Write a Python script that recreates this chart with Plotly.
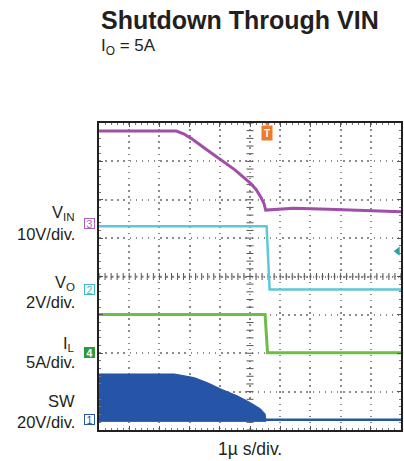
import numpy as np
import plotly.graph_objects as go

# ---------------- data (time in divisions of 1 us, physical units) ----------------
# channel settings: ground offset (divisions from bottom) and scale per division
ch_offset = {"VIN": 5.39, "VO": 3.66, "IL": 2.03, "SW": 0.27}
ch_scale = {"VIN": 10.0, "VO": 2.0, "IL": 5.0, "SW": 20.0}

vin_t = [0, 2.56, 2.8, 3.05, 3.5, 4.03, 4.5, 5.02, 5.2, 5.35, 5.46, 5.52, 5.95, 6.45, 7.6, 10]
vin_v = [24.0, 24.0, 23.3, 22.1, 19.5, 16.5, 13.9, 10.4, 8.8, 6.9, 5.2, 3.4, 3.7, 3.9, 3.6, 3.0]

vo_t = [0, 5.55, 5.65, 10]
vo_v = [3.3, 3.3, 0.0, 0.0]

il_t = [0, 5.5, 5.58, 10]
il_a = [4.9, 4.9, -0.1, -0.1]

sw_t = [0, 2.5, 3.15, 3.6, 4.03, 4.58, 5.02, 5.35, 5.5, 5.53]
sw_top = [23.8, 23.8, 21.9, 19.2, 16.0, 12.4, 8.8, 5.6, 3.0, -0.9]
sw_low = -0.9
sw_after_t = [5.53, 10]
sw_after_v = [0.0, 0.0]

trigger_t = 5.57
title = "Shutdown Through VIN"
subtitle = "I<sub>O</sub> = 5A"
x_label = "1µ s/div."
labels = [("VIN", "V<sub>IN</sub>", "10V/div."),
          ("VO", "V<sub>O</sub>", "2V/div."),
          ("IL", "I<sub>L</sub>", "5A/div."),
          ("SW", "SW", "20V/div.")]

colors = {"VIN": "#A04FA8", "VO": "#5CC8D8", "IL": "#6CBE45", "SW": "#2654A6"}
marker_col = {"VIN": "#B05CC0", "VO": "#3DB8C4", "IL": "#2E9A3E", "SW": "#2654A6"}
marker_num = {"VIN": "3", "VO": "2", "IL": "4", "SW": "1"}
TXT = "#231F20"


def to_div(ch, vals):
    return [ch_offset[ch] + v / ch_scale[ch] for v in vals]


W, H = 404, 461
L, R, T, B = 99, 1, 123, 31
PW = W - L - R
PH = H - T - B


def py(pix):
    return (H - B - pix) / PH


def px(pix):
    return (pix - L) / PW


fig = go.Figure()

# centre-line tick marks
cx = np.arange(0, 10.001, 0.2)
cy = np.arange(0, 8.001, 0.2)
fig.add_shape(type="line", x0=0, x1=10, y0=4, y1=4, line=dict(color="#BDBDBD", width=2, dash="3px,3px"), layer="below")
fig.add_trace(go.Scatter(x=cx, y=[4] * len(cx), mode="markers",
                         marker=dict(symbol="line-ns", size=5, line=dict(color="#555", width=1)),
                         hoverinfo="skip", showlegend=False))
fig.add_trace(go.Scatter(x=[5] * len(cy), y=cy, mode="markers",
                         marker=dict(symbol="line-ew", size=5, line=dict(color="#555", width=1)),
                         hoverinfo="skip", showlegend=False))

# SW filled switching envelope
fig.add_trace(go.Scatter(x=sw_t + sw_t[::-1],
                         y=to_div("SW", sw_top) + to_div("SW", [sw_low] * len(sw_t)),
                         fill="toself", fillcolor=colors["SW"], mode="lines",
                         line=dict(color=colors["SW"], width=1), hoverinfo="skip", showlegend=False))
fig.add_trace(go.Scatter(x=sw_after_t, y=to_div("SW", sw_after_v), mode="lines",
                         line=dict(color=colors["SW"], width=2.5), showlegend=False))
fig.add_trace(go.Scatter(x=il_t, y=to_div("IL", il_a), mode="lines",
                         line=dict(color=colors["IL"], width=3), showlegend=False))
fig.add_trace(go.Scatter(x=vo_t, y=to_div("VO", vo_v), mode="lines",
                         line=dict(color=colors["VO"], width=2.5), showlegend=False))
fig.add_trace(go.Scatter(x=vin_t, y=to_div("VIN", vin_v), mode="lines",
                         line=dict(color=colors["VIN"], width=3), showlegend=False))

# right-side trigger level arrow (teal)
fig.add_trace(go.Scatter(x=[9.89], y=[4.66], mode="markers", cliponaxis=False,
                         marker=dict(symbol="triangle-left", size=8, color="#2AA3A6"),
                         showlegend=False, hoverinfo="skip"))
# trigger position pointer (orange) above the T tag
fig.add_trace(go.Scatter(x=[trigger_t], y=[7.98], mode="markers", cliponaxis=False,
                         marker=dict(symbol="triangle-down", size=5, color="#EE7B2C"),
                         showlegend=False, hoverinfo="skip"))

ann = []
ann.append(dict(text="<b>" + title + "</b>", x=0, xref="paper", xanchor="left",
                y=py(20), yref="paper", yanchor="middle", showarrow=False,
                font=dict(size=25, color=TXT)))
ann.append(dict(text=subtitle, x=0, xref="paper", xanchor="left",
                y=py(47), yref="paper", yanchor="middle", showarrow=False,
                font=dict(size=17, color=TXT)))
ann.append(dict(text=x_label, x=0.5, xref="paper", xanchor="center",
                y=py(449), yref="paper", yanchor="middle", showarrow=False,
                font=dict(size=17.5, color=TXT)))

label_y = {"VIN": (213, 234), "VO": (283, 302), "IL": (344, 362), "SW": (401, 422)}
for ch, name, scale in labels:
    y1, y2 = label_y[ch]
    ann.append(dict(text=name, x=px(77), xref="paper", xanchor="right",
                    y=py(y1), yref="paper", yanchor="middle", showarrow=False,
                    font=dict(size=16.5, color=TXT)))
    ann.append(dict(text=scale, x=px(77), xref="paper", xanchor="right",
                    y=py(y2), yref="paper", yanchor="middle", showarrow=False,
                    font=dict(size=16.5, color=TXT)))
    filled = ch == "IL"
    ann.append(dict(text="<b>" + marker_num[ch] + "</b>" if filled else marker_num[ch],
                    x=px(89), xref="paper", xanchor="center",
                    y=ch_offset[ch], yref="y", yanchor="middle", showarrow=False,
                    font=dict(size=10.5, color="white" if filled else marker_col[ch]),
                    bgcolor=marker_col[ch] if filled else "white",
                    bordercolor=marker_col[ch], borderwidth=1, borderpad=0, width=9, height=9))

# trigger marker
ann.append(dict(text="<b>T</b>", x=trigger_t, xref="x", xanchor="center",
                y=py(133), yref="paper", yanchor="middle", showarrow=False,
                font=dict(size=10, color="white"), bgcolor="#EE7B2C",
                borderpad=1, width=8, height=12))

fig.update_layout(
    width=W, height=H, margin=dict(l=L, r=R, t=T, b=B),
    paper_bgcolor="white", plot_bgcolor="white",
    font=dict(family="Liberation Sans, Arial, sans-serif", color=TXT),
    annotations=ann, showlegend=False,
)
axis_common = dict(showgrid=True, gridcolor="#8C8C8C", gridwidth=1.5, griddash="1.5px,4.6px",
                   zeroline=False, showticklabels=False, showline=True, linecolor=TXT,
                   linewidth=2, mirror="allticks", ticks="inside", ticklen=4,
                   tickcolor="#555", fixedrange=True)
fig.update_xaxes(range=[0, 10], dtick=1, tick0=0,
                 minor=dict(dtick=0.2, ticks="inside", ticklen=2, tickcolor="#777", showgrid=False),
                 **axis_common)
fig.update_yaxes(range=[0, 8], dtick=1, tick0=0,
                 minor=dict(dtick=0.2, ticks="inside", ticklen=2, tickcolor="#777", showgrid=False),
                 **axis_common)

fig.write_html("out.html", config={"displayModeBar": False},
               post_script="document.body.style.margin='0';document.body.style.overflow='hidden';")
